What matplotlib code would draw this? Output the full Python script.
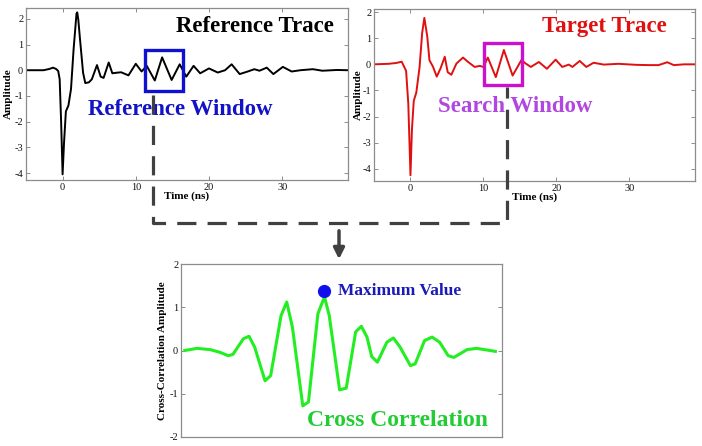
import matplotlib
matplotlib.use("Agg")
import matplotlib.pyplot as plt
from matplotlib.patches import Rectangle, FancyArrowPatch
from matplotlib.lines import Line2D

# ---------------- data ----------------
ref_t = [-5.0, -3.5, -2.6, -1.8, -1.3, -0.9, -0.6, -0.4, -0.2, 0.0, 0.2, 0.45, 0.8, 1.15, 1.5,
         1.9, 2.0, 2.15, 2.35, 2.8, 3.1, 3.6, 4.0, 4.7, 5.2, 5.6, 6.3, 6.8, 7.3, 8.0, 9.0,
         10.0, 10.8, 11.5, 12.6, 13.6, 14.9, 16.0, 16.9, 17.9, 18.8, 20.0, 21.2, 22.2, 23.1,
         24.2, 25.3, 26.2, 26.9, 27.9, 28.8, 30.1, 31.3, 32.5, 34.2, 35.5, 37.5, 39.0]
ref_a = [0.0, 0.0, 0.0, 0.05, 0.1, 0.05, -0.03, -0.35, -2.0, -4.05, -2.8, -1.6, -1.37, -0.73, 0.8,
         2.2, 2.25, 1.96, 1.3, -0.1, -0.5, -0.47, -0.35, 0.2, -0.25, -0.3, 0.3, -0.12, -0.1, -0.08, -0.2,
         0.25, -0.05, 0.17, -0.4, 0.5, -0.38, 0.23, -0.25, 0.17, -0.12, 0.07, -0.09, 0.0, 0.23,
         -0.15, -0.05, 0.04, -0.02, 0.1, -0.15, 0.13, -0.05, 0.0, 0.04, -0.02, 0.01, 0.0]

tgt_t = [-5.0, -3.0, -2.0, -1.2, -0.6, -0.3, 0.0, 0.2, 0.45, 0.8, 1.25, 1.6, 1.9, 2.3, 2.6,
         3.1, 3.6, 4.1, 4.7, 5.1, 5.6, 6.3, 7.2, 7.9, 8.8, 9.5, 10.0, 10.6, 11.7, 12.8, 14.0,
         15.2, 15.8, 16.5, 17.6, 18.7, 19.9, 20.8, 21.7, 22.2, 23.2, 24.1, 25.1, 26.5, 28.5,
         31.0, 32.7, 34.0, 35.2, 36.1, 37.5, 39.0]
tgt_a = [0.0, 0.02, 0.05, 0.1, -0.25, -1.5, -4.25, -2.5, -1.4, -1.08, -0.1, 1.2, 1.78, 1.07, 0.16,
         -0.1, -0.47, -0.17, 0.29, -0.3, -0.4, 0.03, 0.26, 0.09, -0.1, -0.06, -0.1, 0.26, -0.49, 0.55, -0.43,
         0.16, 0.03, -0.1, 0.09, -0.17, 0.18, -0.1, -0.01, -0.1, 0.13, -0.1, 0.06, -0.01, 0.02,
         -0.02, -0.03, -0.03, 0.08, -0.03, 0.0, 0.0]

lag = [-16.6, -15.3, -13.9, -12.9, -12.0, -11.5, -10.4, -9.8, -9.2, -8.1, -7.5, -6.4, -5.8, -5.2,
       -4.1, -3.5, -2.5, -1.8, -1.3, -0.2, 0.5, 1.5, 2.1, 2.7, 3.2, 3.8, 4.8, 5.5, 6.2, 7.3, 7.8,
       8.8, 9.6, 10.4, 11.3, 11.9, 13.3, 14.3, 16.3]
xcorr = [0.0, 0.05, 0.02, -0.04, -0.12, -0.09, 0.27, 0.33, 0.08, -0.7, -0.58, 0.81, 1.12, 0.54,
         -1.28, -1.19, 0.85, 1.24, 0.81, -0.91, -0.87, 0.43, 0.56, 0.31, -0.14, -0.27, 0.19, 0.29, 0.08, -0.35, -0.31,
         0.23, 0.31, 0.19, -0.12, -0.16, 0.02, 0.05, -0.02]

max_lag = -1.85
max_val = 1.37

ref_window = (11.3, -0.8, 5.2, 1.6)
search_window = (10.1, -0.8, 5.2, 1.6)

# ---------------- figure ----------------
W, H = 702, 446
plt.rcParams['font.family'] = ['Liberation Serif', 'DejaVu Serif']
plt.rcParams['axes.unicode_minus'] = False
fig = plt.figure(figsize=(W / 100, H / 100), dpi=100)


def px_axes(x0, y0, x1, y1):
    return fig.add_axes([x0 / W, 1 - y1 / H, (x1 - x0) / W, (y1 - y0) / H])


def style(ax):
    for s in ax.spines.values():
        s.set_color('#8c8c8c')
        s.set_linewidth(0.9)
    ax.tick_params(direction='in', length=3, width=0.7, color='#8c8c8c',
                   top=True, right=True, labelsize=7.5, pad=2, labelcolor='#111111')


ax1 = px_axes(26, 8, 348, 180)
ax2 = px_axes(374, 9, 695, 181)
ax3 = px_axes(181, 264, 502, 437)

for ax in (ax1, ax2, ax3):
    style(ax)

# reference trace
ax1.plot(ref_t, ref_a, color='black', lw=1.4)
ax1.set_xlim(-5, 39)
ax1.set_ylim(-4.27, 2.42)
ax1.set_xticks([0, 10, 20, 30])
ax1.set_yticks([-4, -3, -2, -1, 0, 1, 2])
ax1.add_patch(Rectangle(ref_window[:2], ref_window[2], ref_window[3], fill=False,
                        edgecolor='#1010d0', lw=2.4, zorder=5))
ax1.set_ylabel('Amplitude', fontsize=8, fontweight='bold')
ax1.yaxis.set_label_coords(-0.04, 0.5)
ax1.set_xlabel('Time (ns)', fontsize=8, fontweight='bold')
ax1.xaxis.set_label_coords(0.5, -0.065)
ax1.text(0.711, 0.895, 'Reference Trace', transform=ax1.transAxes, ha='center', va='center',
         fontsize=16.5, fontweight='bold', color='black')
ax1.text(0.478, 0.41, 'Reference Window', transform=ax1.transAxes, ha='center', va='center',
         fontsize=16.5, fontweight='bold', color='#1212c8', zorder=6)

# target trace
ax2.plot(tgt_t, tgt_a, color='#e01010', lw=1.4)
ax2.set_xlim(-5, 39)
ax2.set_ylim(-4.47, 2.12)
ax2.set_xticks([0, 10, 20, 30])
ax2.set_yticks([-4, -3, -2, -1, 0, 1, 2])
ax2.add_patch(Rectangle(search_window[:2], search_window[2], search_window[3], fill=False,
                        edgecolor='#cc10cc', lw=2.4, zorder=5))
ax2.set_ylabel('Amplitude', fontsize=8, fontweight='bold')
ax2.yaxis.set_label_coords(-0.034, 0.5)
ax2.set_xlabel('Time (ns)', fontsize=8, fontweight='bold')
ax2.xaxis.set_label_coords(0.5, -0.065)
ax2.text(0.717, 0.9, 'Target Trace', transform=ax2.transAxes, ha='center', va='center',
         fontsize=16.5, fontweight='bold', color='#e01010')
ax2.text(0.439, 0.436, 'Search Window', transform=ax2.transAxes, ha='center', va='center',
         fontsize=16.5, fontweight='bold', color='#b048e0', zorder=6)

# cross correlation
ax3.plot(lag, xcorr, color='#22ee22', lw=2.2)
ax3.plot([max_lag], [max_val], 'o', color='#1010ee', markersize=8.5)
ax3.set_xlim(-17, 17)
ax3.set_ylim(-2, 2)
ax3.set_yticks([-2, -1, 0, 1, 2])
ax3.set_xticks([])
ax3.set_ylabel('Cross-Correlation Amplitude', fontsize=8, fontweight='bold')
ax3.yaxis.set_label_coords(-0.044, 0.5)
ax3.text(0.489, 0.844, 'Maximum Value', transform=ax3.transAxes, ha='left', va='center',
         fontsize=12.5, fontweight='bold', color='#1a1ab8')
ax3.text(0.673, 0.098, 'Cross Correlation', transform=ax3.transAxes, ha='center', va='center',
         fontsize=17, fontweight='bold', color='#22cc33')

# connector dashed path
px_path_x = [153, 153, 507, 507]
px_path_y = [95, 223, 223, 87]
fig.add_artist(Line2D([x / W for x in px_path_x], [1 - y / H for y in px_path_y],
                      transform=fig.transFigure, color='#404040', lw=2.3,
                      linestyle=(0, (6, 3.5)), zorder=4))

# arrow
fig.add_artist(FancyArrowPatch(
    (339 / W, 1 - 228 / H), (339 / W, 1 - 262 / H), transform=fig.transFigure,
    arrowstyle='-|>', mutation_scale=16, lw=2.5, color='#404040'))

fig.savefig('out.png', dpi=100)
